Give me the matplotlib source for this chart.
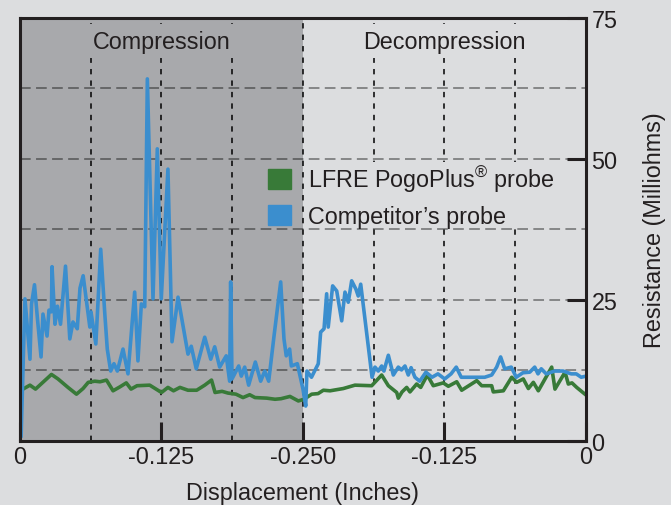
import numpy as np
import matplotlib
matplotlib.use("Agg")
import matplotlib.pyplot as plt
import matplotlib.patches as mpatches

plt.rcParams["font.family"] = ["Liberation Sans", "DejaVu Sans"]
plt.rcParams["mathtext.fontset"] = "custom"
plt.rcParams["mathtext.rm"] = "Liberation Sans"

# ── Data (travel in inches, 0 → 0.25 compression, 0.25 → 0.5 decompression) ──
competitor_x = [0.001, 0.0044, 0.0088, 0.0102, 0.0128, 0.0155, 0.0186, 0.0203, 0.0239, 0.0256,
                0.0278, 0.0283, 0.0309, 0.0331, 0.0358, 0.0402, 0.0440, 0.0468, 0.0506, 0.0530,
                0.0558, 0.0617, 0.0627, 0.0670, 0.0713, 0.0748, 0.0771, 0.0801, 0.0830, 0.0860,
                0.0910, 0.0954, 0.1013, 0.1042, 0.1072, 0.1102, 0.1125, 0.1175, 0.1213, 0.1248,
                0.1307, 0.1343, 0.1396, 0.1484, 0.1513, 0.1557, 0.1632, 0.1685, 0.1720, 0.1764,
                0.1822, 0.1852, 0.1861, 0.1873, 0.1932, 0.1955, 0.1985, 0.2020, 0.2079, 0.2126,
                0.2162, 0.2197, 0.2244, 0.2303, 0.2332, 0.2352, 0.2382, 0.2397, 0.2450, 0.2500,
                0.2524, 0.2535, 0.2575, 0.2635, 0.2656, 0.2686, 0.2709, 0.2723, 0.2762, 0.2798,
                0.2842, 0.2871, 0.2900, 0.2930, 0.2968, 0.2988, 0.3010, 0.3110, 0.3136, 0.3165,
                0.3195, 0.3215, 0.3254, 0.3298, 0.3342, 0.3370, 0.3401, 0.3430, 0.3455, 0.3489,
                0.3531, 0.3586, 0.3640, 0.3692, 0.3752, 0.3808, 0.3854, 0.3898, 0.3975, 0.4105,
                0.4167, 0.4211, 0.4246, 0.4282, 0.4340, 0.4384, 0.4443, 0.4503, 0.4547, 0.4576,
                0.4605, 0.4649, 0.4723, 0.4797, 0.4826, 0.4870, 0.4914, 0.4958, 0.5000]
competitor_r = [0.9, 25.2, 14.5, 24.3, 27.7, 21.5, 14.9, 22.5, 18.6, 23.2,
                22.9, 30.9, 20.7, 23.9, 20.7, 31.0, 18.1, 21.1, 19.9, 27.1,
                29.3, 20.2, 22.9, 17.2, 34.0, 22.9, 16.3, 12.4, 13.7, 12.4,
                16.3, 11.9, 26.4, 14.2, 24.3, 23.8, 64.2, 25.2, 51.8, 25.2,
                48.2, 17.6, 25.5, 15.4, 16.8, 12.8, 18.4, 14.5, 16.7, 13.1,
                15.1, 10.6, 28.2, 11.0, 13.3, 11.5, 13.1, 9.9, 14.0, 10.6,
                12.4, 10.6, 18.6, 28.2, 18.1, 15.1, 16.3, 13.3, 13.7, 9.2,
                6.2, 12.4, 11.3, 13.7, 19.3, 19.9, 26.1, 20.2, 27.5, 26.6,
                21.3, 26.4, 24.6, 28.4, 26.9, 25.7, 27.8, 11.3, 13.1, 12.4,
                13.3, 12.4, 15.2, 11.7, 13.1, 12.6, 13.3, 11.7, 13.0, 11.3,
                10.6, 12.2, 11.3, 11.9, 11.0, 11.9, 13.1, 11.3, 11.3, 11.3,
                11.7, 13.1, 14.9, 12.8, 13.1, 11.3, 12.1, 12.2, 13.1, 11.9,
                12.8, 11.9, 12.4, 12.4, 12.2, 11.9, 11.9, 11.3, 11.5]

lfre_x = [0.0, 0.0088, 0.0137, 0.0278, 0.0336, 0.0424, 0.0499, 0.0557, 0.0603, 0.0660,
          0.0707, 0.0764, 0.0822, 0.0883, 0.0939, 0.0981, 0.1034, 0.1146, 0.1250, 0.1307,
          0.1356, 0.1413, 0.1484, 0.1561, 0.1632, 0.1692, 0.1723, 0.1785, 0.1837, 0.1908,
          0.1970, 0.2029, 0.2076, 0.2179, 0.2253, 0.2306, 0.2385, 0.2459, 0.2509, 0.2577,
          0.2633, 0.2680, 0.2739, 0.2856, 0.2959, 0.3107, 0.3195, 0.3254, 0.3328, 0.3342,
          0.3375, 0.3416, 0.3445, 0.3504, 0.3540, 0.3598, 0.3651, 0.3739, 0.3784, 0.3858,
          0.3902, 0.4035, 0.4079, 0.4167, 0.4181, 0.4270, 0.4344, 0.4388, 0.4446, 0.4491,
          0.4535, 0.4579, 0.4697, 0.4726, 0.4815, 0.4844, 0.4876, 0.4918, 0.4991]
lfre_r = [8.9, 9.9, 9.2, 11.8, 11.0, 9.5, 8.3, 9.3, 10.4, 10.6,
          10.5, 10.8, 8.9, 9.6, 10.3, 9.2, 9.8, 9.9, 8.6, 9.5,
          8.9, 9.5, 9.0, 9.0, 9.9, 10.8, 8.6, 8.8, 8.5, 8.3,
          7.7, 8.2, 7.7, 7.6, 7.4, 7.5, 7.9, 7.1, 7.4, 8.3,
          8.4, 9.0, 8.9, 9.3, 9.9, 9.8, 11.7, 9.8, 8.6, 7.6,
          8.7, 9.5, 8.7, 10.1, 9.5, 11.7, 9.8, 10.3, 9.7, 10.5,
          9.0, 10.7, 9.8, 9.8, 8.7, 8.9, 11.3, 10.4, 11.0, 9.3,
          10.4, 8.9, 13.1, 9.2, 12.2, 10.1, 10.3, 9.5, 8.3]

x_ticks = [0, 0.125, 0.25, 0.375, 0.5]
x_ticklabels = ["0", "-0.125", "-0.250", "-0.125", "0"]
y_ticks = [0, 25, 50, 75]

BG     = "#dcdddf"
SHADE  = "#a8a9ac"
BLUE   = "#3b8ece"
GREEN  = "#387a38"
INK    = "#231f20"
FS     = 16.8

fig = plt.figure(figsize=(6.71, 5.06), dpi=100, facecolor=BG)
ax = fig.add_axes([0.0298, 0.1265, 0.8435, 0.836], facecolor=BG)
ax.set_xlim(0, 0.5)
ax.set_ylim(0, 75)

# compression half shaded
ax.axvspan(0, 0.25, color=SHADE, lw=0, zorder=0)

# grid
for y in np.arange(12.5, 75, 12.5):
    ax.axhline(y, color="black", alpha=0.5, lw=1.1, ls=(0, (7, 3.5)), zorder=0.5)
for x in np.arange(0.0625, 0.5, 0.0625):
    if abs(x - 0.25) < 1e-9:
        continue
    ax.axvline(x, color="black", lw=1.1, ls=(0, (3.5, 4)), zorder=0.5)

# masks behind the titles and legend
ax.axvspan(0.01, 0.24, ymin=0.905, ymax=0.985, color=SHADE, lw=0, zorder=0.8)
ax.axvspan(0.26, 0.49, ymin=0.905, ymax=0.985, color=BG, lw=0, zorder=0.8)
ax.axvspan(0.26, 0.49, ymin=0.505, ymax=0.66, color=BG, lw=0, zorder=0.8)
ax.axvline(0.25, color="black", lw=1.1, ls=(0, (3.5, 4)), zorder=0.9)

ax.plot(lfre_x, lfre_r, color=GREEN, lw=2.6, zorder=2)
ax.plot(competitor_x, competitor_r, color=BLUE, lw=2.6, zorder=3)

ax.text(0.125, 70.8, "Compression", ha="center", va="center", fontsize=FS, color=INK)
ax.text(0.375, 70.8, "Decompression", ha="center", va="center", fontsize=FS, color=INK)

handles = [
    mpatches.Patch(color=GREEN, label=r"LFRE PogoPlus$^{\circledR}$ probe"),
    mpatches.Patch(color=BLUE, label="Competitor\u2019s probe"),
]
leg = ax.legend(handles=handles, loc="upper left", bbox_to_anchor=(0.438, 0.655),
                frameon=False, fontsize=FS, handlelength=1.0, handleheight=1.0,
                handletextpad=0.7, labelspacing=0.45, borderpad=0, borderaxespad=0)
for t in leg.get_texts():
    t.set_color(INK)

ax.set_xticks(x_ticks)
ax.set_xticklabels(x_ticklabels)
ax.yaxis.tick_right()
ax.yaxis.set_label_position("right")
ax.set_yticks(y_ticks)
ax.tick_params(axis="both", direction="in", length=14, width=2.2, color=INK,
               labelsize=FS, labelcolor=INK)
ax.tick_params(axis="x", pad=3)
ax.tick_params(axis="y", pad=4)

ax.set_xlabel("Displacement (Inches)", fontsize=FS, color=INK, labelpad=9)
ax.set_ylabel("Resistance (Milliohms)", fontsize=FS, color=INK, labelpad=18)

for s in ax.spines.values():
    s.set_linewidth(2.2)
    s.set_color(INK)
    s.set_zorder(4)

fig.savefig("out.png", dpi=100, facecolor=BG)
